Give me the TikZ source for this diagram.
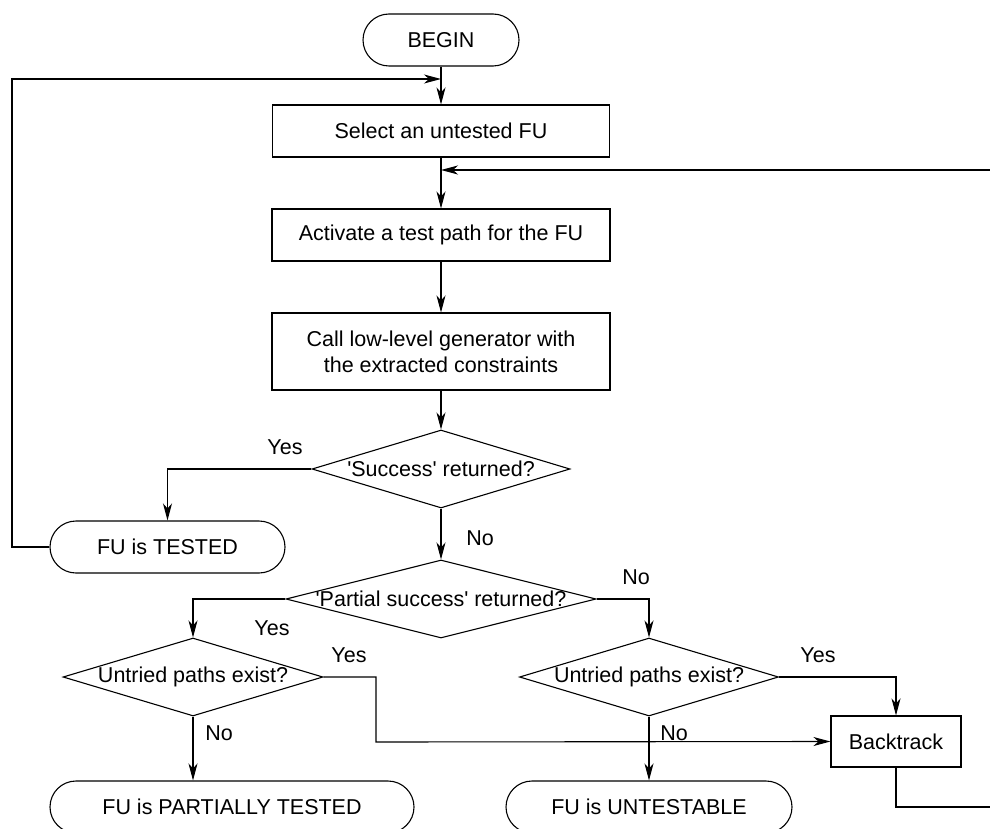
\documentclass[tikz,border=0pt]{standalone}
\usepackage{fontspec}
\setmainfont{Liberation Sans}
\usetikzlibrary{shapes.geometric,arrows.meta}

\begin{document}
\begin{tikzpicture}[x=1pt,y=-1pt,
  font=\fontsize{21.5}{25.8}\selectfont,
  line width=1.1pt,
  arr/.style={-{Stealth[length=17pt,width=9pt,inset=5pt]}},
  terminal/.style={draw,rectangle,rounded corners=26pt,minimum height=52pt,inner sep=0pt},
  process/.style={draw,rectangle,minimum height=52pt,inner sep=0pt,align=center},
  decision/.style={draw,diamond,inner sep=0pt,minimum height=78pt},
  lbl/.style={inner sep=0pt}]
\useasboundingbox (0,0) rectangle (990,829);
\clip (0,0) rectangle (990,829);

% main column
\node[terminal,minimum width=156pt] (begin) at (441,40) {BEGIN};
\node[process,minimum width=337pt] (select) at (441,131) {Select an untested FU};
\node[process,minimum width=338pt] (activate) at (441,235) {Activate a test path for the FU};
\node[process,minimum width=338pt,minimum height=77pt] (call) at (441,351.5)
  {Call low-level generator with\\the extracted constraints};
\node[decision,minimum width=258pt,
  label=center:{\textquotesingle Success\textquotesingle{} returned?}] (d1) at (441,469) {};
\node[decision,minimum width=310pt,
  label=center:{\textquotesingle Partial success\textquotesingle{} returned?}] (d2) at (441,599) {};

% branches
\node[terminal,minimum width=235pt] (tested) at (167.5,547) {FU is TESTED};
\node[decision,minimum width=260pt,label=center:{Untried paths exist?}] (d3) at (193,677) {};
\node[decision,minimum width=259pt,label=center:{Untried paths exist?}] (d4) at (649,677) {};
\node[process,minimum width=130pt,minimum height=51pt] (back) at (896,741.5) {Backtrack};
\node[terminal,minimum width=364pt] (part) at (232,807) {FU is PARTIALLY TESTED};
\node[terminal,minimum width=286pt] (untest) at (649,807) {FU is UNTESTABLE};

% junctions and bends
\coordinate (j1) at (441,79);
\coordinate (j2) at (441,170);
\coordinate (loopL) at (12,547);
\coordinate (bendY) at (376,742);
\coordinate (loopR) at (1005,807);

% connectors
\draw[arr] (begin.south) -- (select.north);
\draw[arr] (select.south) -- (activate.north);
\draw[arr] (activate.south) -- (call.north);
\draw[arr] (call.south) -- (d1.north);
\draw[arr] (d1.west) -| (tested.north);
\draw[arr] (d1.south) -- (d2.north);
\draw[arr] (d2.west) -| (d3.north);
\draw[arr] (d2.east) -| (d4.north);
\draw[arr] (d3.east) -| (bendY) -- (back.west);
\draw[arr] (d3.south) -- (d3.south |- part.north);
\draw[arr] (d4.east) -| (back.north);
\draw[arr] (d4.south) -- (untest.north);
\draw[arr] (tested.west) -- (loopL) |- (j1);
\draw[arr] (back.south) |- (loopR) |- (j2);

% branch labels
\node[lbl] (y1) at (285,447) {Yes};
\node[lbl] (n1) at (480,538) {No};
\node[lbl] (y2) at (272,628) {Yes};
\node[lbl] (n2) at (636,577) {No};
\node[lbl] (y3) at (349,655) {Yes};
\node[lbl] (n3) at (219,733) {No};
\node[lbl] (y4) at (818,655) {Yes};
\node[lbl] (n4) at (674,733) {No};
\end{tikzpicture}
\end{document}
